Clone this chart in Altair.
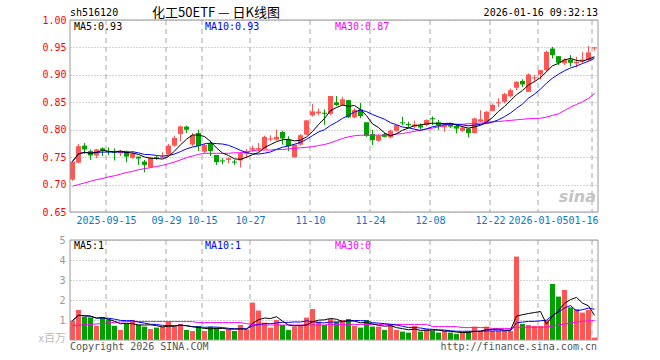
import altair as alt
import pandas as pd

# ---------------- data ----------------
opens = [0.709,0.740,0.771,0.761,0.753,0.766,0.761,0.760,0.757,0.761,
         0.749,0.751,0.742,0.732,0.750,0.749,0.755,0.771,0.792,0.8056,
         0.773,0.794,0.760,0.776,0.754,0.744,0.745,0.742,0.744,0.756,
         0.764,0.765,0.765,0.782,0.782,0.796,0.782,0.750,0.773,0.791,
         0.826,0.830,0.831,0.829,0.850,0.845,0.854,0.8225,0.837,0.8135,
         0.792,0.780,0.792,0.786,0.798,0.8135,0.8105,0.8055,0.808,0.8085,
         0.821,0.8135,0.8045,0.810,0.807,0.798,0.802,0.794,0.8145,0.814,
         0.8345,0.8485,0.851,0.861,0.8765,0.889,0.869,0.8935,0.9007,0.9087,
         0.948,0.934,0.921,0.928,0.921,0.925,0.927,0.949]
closes = [0.742,0.770,0.764,0.753,0.764,0.762,0.760,0.759,0.761,0.751,
          0.756,0.7475,0.736,0.749,0.749,0.751,0.771,0.785,0.806,0.800,
          0.790,0.770,0.772,0.761,0.741,0.743,0.748,0.741,0.757,0.7605,
          0.7665,0.7665,0.787,0.784,0.787,0.784,0.770,0.773,0.790,0.817,
          0.8335,0.833,0.829,0.8615,0.845,0.8555,0.8225,0.836,0.825,0.789,
          0.781,0.789,0.787,0.798,0.8085,0.8125,0.8095,0.8095,0.804,0.8175,
          0.819,0.8075,0.809,0.8055,0.802,0.804,0.794,0.8205,0.819,0.8327,
          0.845,0.850,0.865,0.872,0.8875,0.8825,0.9007,0.8955,0.9087,0.942,
          0.936,0.922,0.928,0.922,0.924,0.928,0.941,0.950]
highs = [0.742,0.774,0.776,0.764,0.765,0.768,0.7675,0.766,0.763,0.762,
         0.759,0.751,0.745,0.751,0.7525,0.759,0.774,0.789,0.8075,0.8075,
         0.794,0.800,0.774,0.780,0.754,0.748,0.750,0.745,0.759,0.765,
         0.771,0.776,0.789,0.790,0.800,0.798,0.788,0.773,0.792,0.818,
         0.847,0.8385,0.837,0.8615,0.8615,0.860,0.854,0.839,0.849,0.8135,
         0.7995,0.7915,0.7945,0.8005,0.8085,0.8235,0.8145,0.8165,0.8115,0.819,
         0.824,0.818,0.8115,0.8125,0.810,0.8065,0.802,0.822,0.8357,0.8345,
         0.848,0.857,0.8673,0.875,0.889,0.892,0.9026,0.900,0.9087,0.944,
         0.951,0.934,0.930,0.936,0.933,0.942,0.9525,0.9505]
lows = [0.707,0.739,0.756,0.745,0.748,0.752,0.754,0.744,0.752,0.741,
        0.747,0.736,0.7225,0.731,0.745,0.7475,0.754,0.769,0.779,0.794,
        0.770,0.761,0.757,0.752,0.736,0.737,0.739,0.736,0.731,0.748,
        0.760,0.760,0.764,0.779,0.780,0.773,0.761,0.749,0.771,0.790,
        0.824,0.826,0.809,0.827,0.843,0.844,0.821,0.821,0.821,0.787,
        0.772,0.778,0.786,0.784,0.7965,0.808,0.8045,0.8025,0.8005,0.8065,
        0.8085,0.7995,0.7965,0.803,0.7935,0.7955,0.786,0.793,0.8135,0.8115,
        0.8335,0.8418,0.848,0.859,0.872,0.878,0.869,0.8875,0.8916,0.9056,
        0.930,0.918,0.918,0.915,0.9135,0.922,0.924,0.944]
# price MA30
ma30 = [0.697,0.700,0.703,0.706,0.709,0.711,0.714,0.716,0.719,0.722,
        0.724,0.727,0.729,0.731,0.733,0.735,0.738,0.741,0.745,0.749,
        0.752,0.755,0.757,0.757,0.757,0.757,0.757,0.758,0.758,0.759,
        0.762,0.763,0.763,0.763,0.764,0.764,0.765,0.766,0.767,0.768,
        0.769,0.771,0.773,0.776,0.780,0.784,0.787,0.789,0.790,0.790,
        0.790,0.790,0.790,0.790,0.792,0.793,0.795,0.797,0.799,0.801,
        0.803,0.805,0.808,0.810,0.810,0.810,0.811,0.811,0.812,0.813,
        0.8145,0.815,0.816,0.817,0.818,0.819,0.820,0.8205,0.821,0.823,
        0.826,0.829,0.835,0.841,0.846,0.851,0.857,0.866]
# volume, millions
volumes = [0.97,1.50,1.17,1.13,0.70,1.13,1.03,0.70,0.50,0.83,
           1.00,0.75,0.67,0.55,0.62,0.67,0.92,0.67,0.80,0.50,
           0.45,0.70,0.45,0.67,0.62,0.45,0.53,0.45,0.75,0.53,
           1.87,1.47,0.87,0.62,1.00,0.75,0.50,0.67,0.70,1.12,
           1.55,0.92,0.75,1.05,0.92,1.00,1.05,0.70,0.62,1.00,
           0.67,0.67,0.50,0.75,0.50,0.42,0.37,0.70,0.42,0.53,
           0.47,0.37,0.45,0.37,0.30,0.37,0.42,0.67,0.45,0.67,
           0.45,0.45,0.45,0.45,4.17,0.80,0.75,0.70,0.70,1.00,
           2.80,2.17,2.50,1.63,1.55,1.37,1.50,0.12]
vol_ma30 = [0.72,0.74,0.76,0.78,0.80,0.83,0.86,0.88,0.90,0.92,
            0.92,0.92,0.92,0.92,0.92,0.92,0.92,0.92,0.92,0.92,
            0.92,0.87,0.87,0.87,0.87,0.87,0.87,0.87,0.87,0.82,
            0.78,0.75,0.75,0.75,0.75,0.75,0.75,0.75,0.75,0.75,
            0.75,0.75,0.75,0.78,0.78,0.78,0.78,0.78,0.78,0.78,
            0.78,0.78,0.78,0.78,0.78,0.78,0.78,0.78,0.78,0.78,
            0.67,0.67,0.67,0.67,0.67,0.62,0.62,0.62,0.62,0.62,
            0.58,0.58,0.58,0.58,0.64,0.64,0.64,0.64,0.64,0.64,
            0.70,0.75,0.80,0.85,0.90,0.93,0.96,0.97]

tick_idx = [6, 16, 22, 30, 40, 50, 60, 70, 78, 87]
tick_lbl = ["2025-09-15", "09-29", "10-15", "10-27", "11-10", "11-24",
            "12-08", "12-22", "2026-01-05", "01-16"]
price_ticks = [0.65, 0.70, 0.75, 0.80, 0.85, 0.90, 0.95, 1.00]
vol_ticks = [1, 2, 3, 4, 5]

code_txt = "sh516120"
title_txt = "化工50ETF — 日K线图"
time_txt = "2026-01-16 09:32:13"
price_ma_lbl = ["MA5:0.93", "MA10:0.93", "MA30:0.87"]
vol_ma_lbl = ["MA5:1", "MA10:1", "MA30:0"]
unit_txt = "x百万"
copy_txt = "Copyright 2026 SINA.COM"
url_txt = "http://finance.sina.com.cn"

# ---------------- build ----------------
n = len(closes)
df = pd.DataFrame({"i": list(range(n)), "o": opens, "h": highs, "l": lows,
                   "c": closes, "v": volumes, "ma30": ma30, "vma30": vol_ma30})
ticks_df = pd.DataFrame({"t": tick_idx})
ticks_df["p0"] = min(price_ticks)
ticks_df["p1"] = max(price_ticks)
ticks_df["v0"] = 0
ticks_df["v1"] = max(vol_ticks)
frame_df = pd.DataFrame({"x0": [0], "x1": [n], "p0": [min(price_ticks)], "p1": [max(price_ticks)],
                         "v0": [0], "v1": [max(vol_ticks)]})

RED = "#ff5555"
GREEN = "#00a000"
GRID = "#a8a8a8"
MONO = "DejaVu Sans Mono"
CJK = "Noto Sans CJK SC"

XS = alt.Scale(domain=[0, n], nice=False, zero=False)
PY = alt.Scale(domain=[min(price_ticks), max(price_ticks)], range=[192, 0], nice=False, zero=False)
VY = alt.Scale(domain=[0, max(vol_ticks)], range=[320, 220], nice=False, zero=False)

updown = alt.condition("datum.c >= datum.o", alt.value(RED), alt.value(GREEN))

lbl_expr = ("[" + ",".join("'%s'" % s for s in tick_lbl) + "][indexof(["
            + ",".join(str(t) for t in tick_idx) + "], datum.value)]")
last_test = "datum.value == %d" % tick_idx[-1]

XA = alt.Axis(values=tick_idx, labelExpr=lbl_expr, orient="bottom", offset=-128,
              grid=False, ticks=False, domain=False, labelColor="#0a78c8",
              labelFont=MONO, labelFontSize=10, labelPadding=3, labelOverlap=False,
              labelFlush=False, labelBound=False,
              labelAlign={"condition": {"test": last_test, "value": "right"}, "value": "center"},
              labelOffset={"condition": {"test": last_test, "value": 6}, "value": 0},
              title=None)
PA = alt.Axis(values=price_ticks, format=".2f", orient="left",
              grid=True, gridDash=[1, 2], gridColor=GRID,
              ticks=False, domain=False, labelColor="#ff0000",
              labelFont=MONO, labelFontSize=10, labelPadding=4, title=None)
VA = alt.Axis(values=vol_ticks, format="d", orient="left",
              grid=True, gridDash=[1, 2], gridColor=GRID,
              ticks=False, domain=False, labelColor="#999999",
              labelFont=MONO, labelFontSize=10, labelPadding=5, title=None)

def X(field):
    return alt.X(field + ":Q", scale=XS, axis=XA)
def PYc(field):
    return alt.Y(field + ":Q", scale=PY, axis=PA)
def VYc(field):
    return alt.Y(field + ":Q", scale=VY, axis=VA)

base = alt.Chart(df).transform_calculate(
    xl="datum.i", xr="datum.i + 5/6", xm="datum.i + 2.5/6",
    bt="max(datum.o, datum.c)",
    bb="min(max(datum.o, datum.c) - 0.0019, min(datum.o, datum.c))",
    z="0",
).transform_window(
    ma5="mean(c)", frame=[-4, 0], sort=[alt.SortField("i")]
).transform_window(
    ma10="mean(c)", frame=[-9, 0], sort=[alt.SortField("i")]
).transform_window(
    vma5="mean(v)", frame=[-4, 0], sort=[alt.SortField("i")]
).transform_window(
    vma10="mean(v)", frame=[-9, 0], sort=[alt.SortField("i")]
)

# ----- price panel -----
p_vgrid = alt.Chart(ticks_df).mark_rule(color=GRID, strokeDash=[5, 4], strokeWidth=1).encode(
    x=X("t"), y=PYc("p1"), y2="p0:Q",
)
wick = base.mark_rule(strokeWidth=1).encode(
    x=X("xm"), y=PYc("l"), y2="h:Q", color=updown,
)
body = base.mark_rect().encode(
    x=X("xl"), x2="xr:Q", y=PYc("bt"), y2="bb:Q", color=updown,
)
def pline(field, color):
    return base.mark_line(color=color, strokeWidth=1).encode(x=X("xm"), y=PYc(field))
p_frame = alt.Chart(frame_df).mark_rect(filled=False, stroke="#999999", strokeWidth=1).encode(
    x=X("x0"), x2="x1:Q", y=PYc("p1"), y2="p0:Q",
)
price = alt.layer(p_vgrid, wick, body, pline("ma30", "#ff00ff"), pline("ma10", "#0000ff"),
                  pline("ma5", "#000000"), p_frame)

# ----- volume panel -----
v_vgrid = alt.Chart(ticks_df).mark_rule(color=GRID, strokeDash=[5, 4], strokeWidth=1).encode(
    x=X("t"), y=VYc("v1"), y2="v0:Q",
)
vbars = base.mark_rect().encode(
    x=X("xl"), x2="xr:Q", y=VYc("v"), y2="z:Q", color=updown,
)
def vline(field, color):
    return base.mark_line(color=color, strokeWidth=1).encode(x=X("xm"), y=VYc(field))
v_frame = alt.Chart(frame_df).mark_rect(filled=False, stroke="#999999", strokeWidth=1).encode(
    x=X("x0"), x2="x1:Q", y=VYc("v1"), y2="v0:Q",
)
volume = alt.layer(v_vgrid, vbars, vline("vma30", "#ff00ff"), vline("vma10", "#0000ff"),
                   vline("vma5", "#000000"), v_frame)

# ----- texts -----
def label(text, x, y, color, size=10, align="left", font=MONO, **kw):
    return alt.Chart(pd.DataFrame({"s": [text]})).mark_text(
        align=align, baseline="middle", color=color, fontSize=size, font=font, **kw
    ).encode(text="s:N", x=alt.value(x), y=alt.value(y))

texts = [
    label(code_txt, 0, -7, "#000000"),
    label(title_txt, 146, -7, "#000000", size=13, align="center", font=CJK),
    label(time_txt, 528, -7, "#000000", align="right"),
    label(price_ma_lbl[0], 4, 6.5, "#000000"),
    label(price_ma_lbl[1], 135, 6.5, "#0000ff"),
    label(price_ma_lbl[2], 265, 6.5, "#ff00ff"),
    label(vol_ma_lbl[0], 4, 226, "#000000"),
    label(vol_ma_lbl[1], 135, 226, "#0000ff"),
    label(vol_ma_lbl[2], 265, 226, "#ff00ff"),
    label(unit_txt, -4, 319, "#bbbbbb", size=11, align="right", font=CJK),
    label(copy_txt, 0, 327, "#555555"),
    label(url_txt, 527, 327, "#555555", align="right"),
    label("sina", 526, 177, "#c4c4c4", size=16, align="right", font="DejaVu Sans",
          fontStyle="italic", fontWeight="bold"),
]

chart = alt.layer(price, volume, *texts).resolve_scale(y="independent").properties(
    width=528, height=320,
    padding={"left": 70, "top": 20, "right": 62, "bottom": 20},
    autosize=alt.AutoSizeParams(type="none"),
    background="white",
).configure_view(strokeWidth=0)

chart.save("out.html", embed_options={"renderer": "svg", "actions": False})
